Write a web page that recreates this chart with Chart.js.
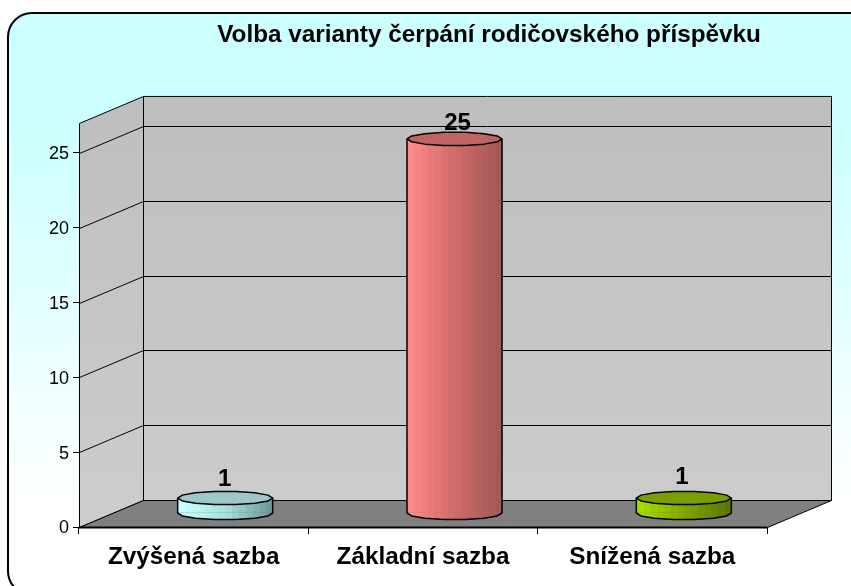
<!DOCTYPE html>
<html><head><meta charset="utf-8">
<style>html,body{margin:0;padding:0;background:#fff}canvas{display:block}</style>
<script src="https://cdn.jsdelivr.net/npm/chart.js@4/dist/chart.umd.min.js"></script>
</head><body><canvas id="c" width="851" height="586"></canvas>
<script>
const titleText = 'Volba varianty čerpání rodičovského příspěvku';
const categories = ['Zvýšená sazba', 'Základní sazba', 'Snížená sazba'];
const values = [1, 25, 1];
const bodyStops = [
  ['#c8ffff', '#a8e0e0', '#6f9a9a'],
  ['#ff8888', '#d06a6a', '#a55858'],
  ['#a6dc00', '#7fa800', '#5a7700']
];
const capColors = ['#9cc8c8', '#c06464', '#7a9e00'];
const labelOffsets = [[-0.5, 12], [3, 9], [-2, 14]];
const depthX = 64, depthY = 27;      // wall depth
const barDX = 31.5, barDY = 14;      // bars stand mid-depth
const barWidth = 95, capRy = 6.7;

function capPath(ctx, cx, cy, rx, ry, fromA, toA, move) {
  // faceted ellipse, as the original renderer draws it
  const n = Math.round(Math.abs(toA - fromA) / (Math.PI / 7));
  for (let i = 0; i <= n; i++) {
    const a = fromA + (toA - fromA) * i / n;
    const x = cx + rx * Math.cos(a), y = cy + ry * Math.sin(a);
    if (i === 0 && move) ctx.moveTo(x, y); else ctx.lineTo(x, y);
  }
}
function lerpHex(a, b, t) {
  const p = s => [1, 3, 5].map(k => parseInt(s.substr(k, 2), 16));
  const A = p(a), B = p(b);
  return 'rgb(' + A.map((v, k) => Math.round(v + (B[k] - v) * t)).join(',') + ')';
}
function bodyFill(c, cx, i) {
  // banded shading of a faceted cylinder
  const g = c.createLinearGradient(cx - barWidth / 2, 0, cx + barWidth / 2, 0);
  const n = 14, s = bodyStops[i];
  for (let k = 0; k < n; k++) {
    const t = k / (n - 1);
    const col = t < .5 ? lerpHex(s[0], s[1], t * 2) : lerpHex(s[1], s[2], t * 2 - 1);
    g.addColorStop(k / n, col); g.addColorStop((k + 1) / n, col);
  }
  return g;
}
const scene = {
  id: 'scene',
  afterLayout(chart) {
    if (chart.titleBlock) { chart.titleBlock.left += 86; chart.titleBlock.right += 86; }
  },
  beforeDraw(chart) {
    const c = chart.ctx, {y: ys} = chart.scales;
    ys.getLabelItems(chart.chartArea).forEach(it => {
      if (!it._moved) { it.textOffset += 1.5; it._moved = true; }
    });
    const L = chart.chartArea.left, R = chart.chartArea.right;
    const T = ys.getPixelForValue(27), B = ys.getPixelForValue(0);
    c.save();
    c.fillStyle = '#fff'; c.fillRect(0, 0, chart.width, chart.height);
    const g = c.createLinearGradient(0, 13, 0, 592);
    g.addColorStop(0, '#ccffff'); g.addColorStop(.2, '#ccffff'); g.addColorStop(.85, '#ffffff');
    c.beginPath(); c.roundRect(8, 13, 880, 582, 24);
    c.fillStyle = g; c.fill();
    c.strokeStyle = '#000'; c.lineWidth = 2; c.stroke();
    c.lineWidth = 1; c.strokeStyle = '#000';
    const wall = c.createLinearGradient(0, T - depthY, 0, B);
    wall.addColorStop(0, '#bebebe'); wall.addColorStop(1, '#cdcdcd');
    // back wall
    c.fillStyle = wall;
    c.beginPath(); c.rect(L + depthX + .5, T - depthY + .5, R - L, B - T); c.fill(); c.stroke();
    // side wall
    c.beginPath();
    c.moveTo(L + .5, T + .5); c.lineTo(L + depthX + .5, T - depthY + .5);
    c.lineTo(L + depthX + .5, B - depthY + .5); c.lineTo(L + .5, B + .5); c.closePath();
    c.fill(); c.stroke();
    // floor
    c.fillStyle = '#808080';
    c.beginPath();
    c.moveTo(L + .5, B + .5); c.lineTo(L + depthX + .5, B - depthY + .5);
    c.lineTo(R + depthX + .5, B - depthY + .5); c.lineTo(R + .5, B + .5); c.closePath();
    c.fill(); c.stroke();
    // gridlines on the walls
    ys.ticks.forEach(t => {
      if (t.value === 0) return;
      const y = Math.round(ys.getPixelForValue(t.value)) + .5;
      c.beginPath(); c.moveTo(L + .5, y); c.lineTo(L + depthX + .5, y - depthY);
      c.lineTo(R + depthX + .5, y - depthY); c.stroke();
    });
    c.lineWidth = 2;
    c.beginPath(); c.moveTo(L, B + .5); c.lineTo(R, B + .5); c.stroke();
    c.restore();
  },
  beforeDatasetsDraw(chart) {
    const c = chart.ctx;
    c.save(); c.translate(barDX, -barDY);
  },
  afterDatasetsDraw(chart) {
    const c = chart.ctx, ys = chart.scales.y, meta = chart.getDatasetMeta(0);
    c.restore();
    meta.data.forEach((bar, i) => {
      const cx = bar.x + barDX, ty = bar.y - barDY, by = ys.getPixelForValue(0) - barDY;
      const rx = barWidth / 2;
      c.save();
      // curved foot of the cylinder
      c.beginPath(); capPath(c, cx, by, rx, capRy, 0, Math.PI, true); c.closePath();
      c.fillStyle = bodyFill(c, cx, i); c.fill();
      c.strokeStyle = '#000'; c.lineWidth = 1.5; c.lineJoin = 'round';
      c.beginPath();
      c.moveTo(cx - rx, ty); c.lineTo(cx - rx, by);
      capPath(c, cx, by, rx, capRy, Math.PI, 0, false);
      c.lineTo(cx + rx, ty); c.stroke();
      // top cap
      c.beginPath(); capPath(c, cx, ty, rx, capRy, 0, Math.PI * 2, true); c.closePath();
      c.fillStyle = capColors[i]; c.fill(); c.stroke();
      // value label
      c.fillStyle = '#000'; c.font = 'bold 24px "Liberation Sans"';
      c.textAlign = 'center'; c.textBaseline = 'alphabetic';
      c.fillText(String(values[i]), cx + labelOffsets[i][0], ty - labelOffsets[i][1]);
      c.restore();
    });
  }
};
new Chart(document.getElementById('c'), {
  type: 'bar',
  data: { labels: categories, datasets: [{
    data: values,
    barThickness: barWidth,
    borderWidth: 0,
    backgroundColor: ctx => {
      const el = ctx.chart.scales && ctx.chart.scales.x;
      if (!el || ctx.dataIndex === undefined) return bodyStops[0][1];
      const x = el.getPixelForValue(ctx.dataIndex) + 0.5;
      return Number.isFinite(x) ? bodyFill(ctx.chart.ctx, x, ctx.dataIndex) : bodyStops[ctx.dataIndex][1];
    }
  }]},
  options: {
    responsive: false, animation: false, devicePixelRatio: 1,
    layout: { padding: { left: 39, right: 84, top: 0, bottom: 0 } },
    plugins: {
      legend: { display: false }, tooltip: { enabled: false },
      title: { display: true, text: titleText, align: 'center', color: '#000',
        font: { family: '"Liberation Sans"', size: 24.3, weight: 'bold', lineHeight: 1.2 },
        padding: { top: 21, bottom: 72.8 } }
    },
    scales: {
      x: {
        afterFit: s => { s.height = 59; },
        grid: { drawOnChartArea: false, drawTicks: true, tickLength: 7, color: '#000' },
        border: { display: false },
        ticks: { color: '#000', padding: 9, maxRotation: 0, font: { family: '"Liberation Sans"', size: 24.3, weight: 'bold' } }
      },
      y: {
        min: 0, max: 27,
        afterFit: s => { s.width = 40; },
        grid: { drawOnChartArea: false, drawTicks: true, tickLength: 6, color: '#000' },
        border: { display: false },
        ticks: { stepSize: 5, includeBounds: false, color: '#000', padding: 4, font: { family: '"Liberation Sans"', size: 18 } }
      }
    }
  },
  plugins: [scene]
});
</script></body></html>
